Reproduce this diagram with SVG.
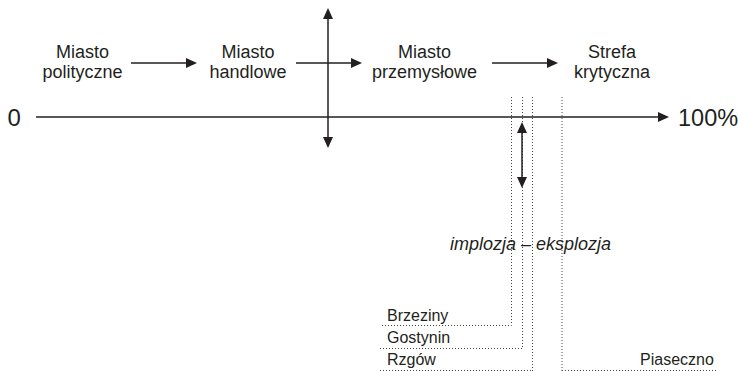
<svg xmlns="http://www.w3.org/2000/svg" width="738" height="371" viewBox="0 0 738 371">
<style>
text{font-family:"Liberation Sans",Arial,sans-serif;fill:#231f20}
.lbl{font-size:18px;text-anchor:middle}
.small{font-size:16px}
.ax{stroke:#231f20;stroke-width:1.5;fill:none}
.dot{stroke:#444;stroke-width:1;stroke-dasharray:1 2;fill:none}
</style>
<defs>
<marker id="ah" viewBox="0 0 11 10" markerWidth="11" markerHeight="10" markerUnits="userSpaceOnUse" refX="3" refY="5" orient="auto-start-reverse">
<path d="M0,0 L11,5 L0,10 z" fill="#231f20"/>
</marker>
</defs>
<rect width="738" height="371" fill="#fff"/>
<g id="guides">
<path class="dot" d="M511.5,97 V325.5 H380"/>
<path class="dot" d="M522.5,97 V348.5 H380"/>
<path class="dot" d="M532.5,97 V371"/>
<path class="dot" d="M562,97 V371"/>
<path class="dot" d="M380,370.5 H532"/>
<path class="dot" d="M562,370.5 H716"/>
</g>
<g id="connectors">
<line class="ax" x1="36" y1="117" x2="661" y2="117" marker-end="url(#ah)"/>
<line class="ax" x1="328" y1="16" x2="328" y2="140" marker-start="url(#ah)" marker-end="url(#ah)"/>
<line class="ax" x1="131" y1="63" x2="189" y2="63" marker-end="url(#ah)"/>
<line class="ax" x1="296" y1="63" x2="354" y2="63" marker-end="url(#ah)"/>
<line class="ax" x1="492" y1="63" x2="550" y2="63" marker-end="url(#ah)"/>
<line class="ax" x1="522" y1="130" x2="522" y2="180" marker-start="url(#ah)" marker-end="url(#ah)"/>
</g>
<g id="n-zero"><text x="7.5" y="126" style="font-size:24px">0</text></g>
<g id="n-100"><text x="678" y="126" style="font-size:23.5px">100%</text></g>
<g id="n-polityczne"><text class="lbl" x="82.5" y="58">Miasto</text><text class="lbl" x="82.5" y="78">polityczne</text></g>
<g id="n-handlowe"><text class="lbl" x="248" y="58">Miasto</text><text class="lbl" x="248" y="78">handlowe</text></g>
<g id="n-przemyslowe"><text class="lbl" x="424.5" y="58">Miasto</text><text class="lbl" x="424.5" y="78">przemysłowe</text></g>
<g id="n-strefa"><text class="lbl" x="612" y="58">Strefa</text><text class="lbl" x="612" y="78">krytyczna</text></g>
<g id="n-implozja"><text x="450" y="250" style="font-size:18px;font-style:italic">implozja – eksplozja</text></g>
<g id="n-brzeziny"><text class="small" x="387" y="321">Brzeziny</text></g>
<g id="n-gostynin"><text class="small" x="387" y="343">Gostynin</text></g>
<g id="n-rzgow"><text class="small" x="387" y="365">Rzgów</text></g>
<g id="n-piaseczno"><text class="small" x="640" y="365">Piaseczno</text></g>
</svg>
